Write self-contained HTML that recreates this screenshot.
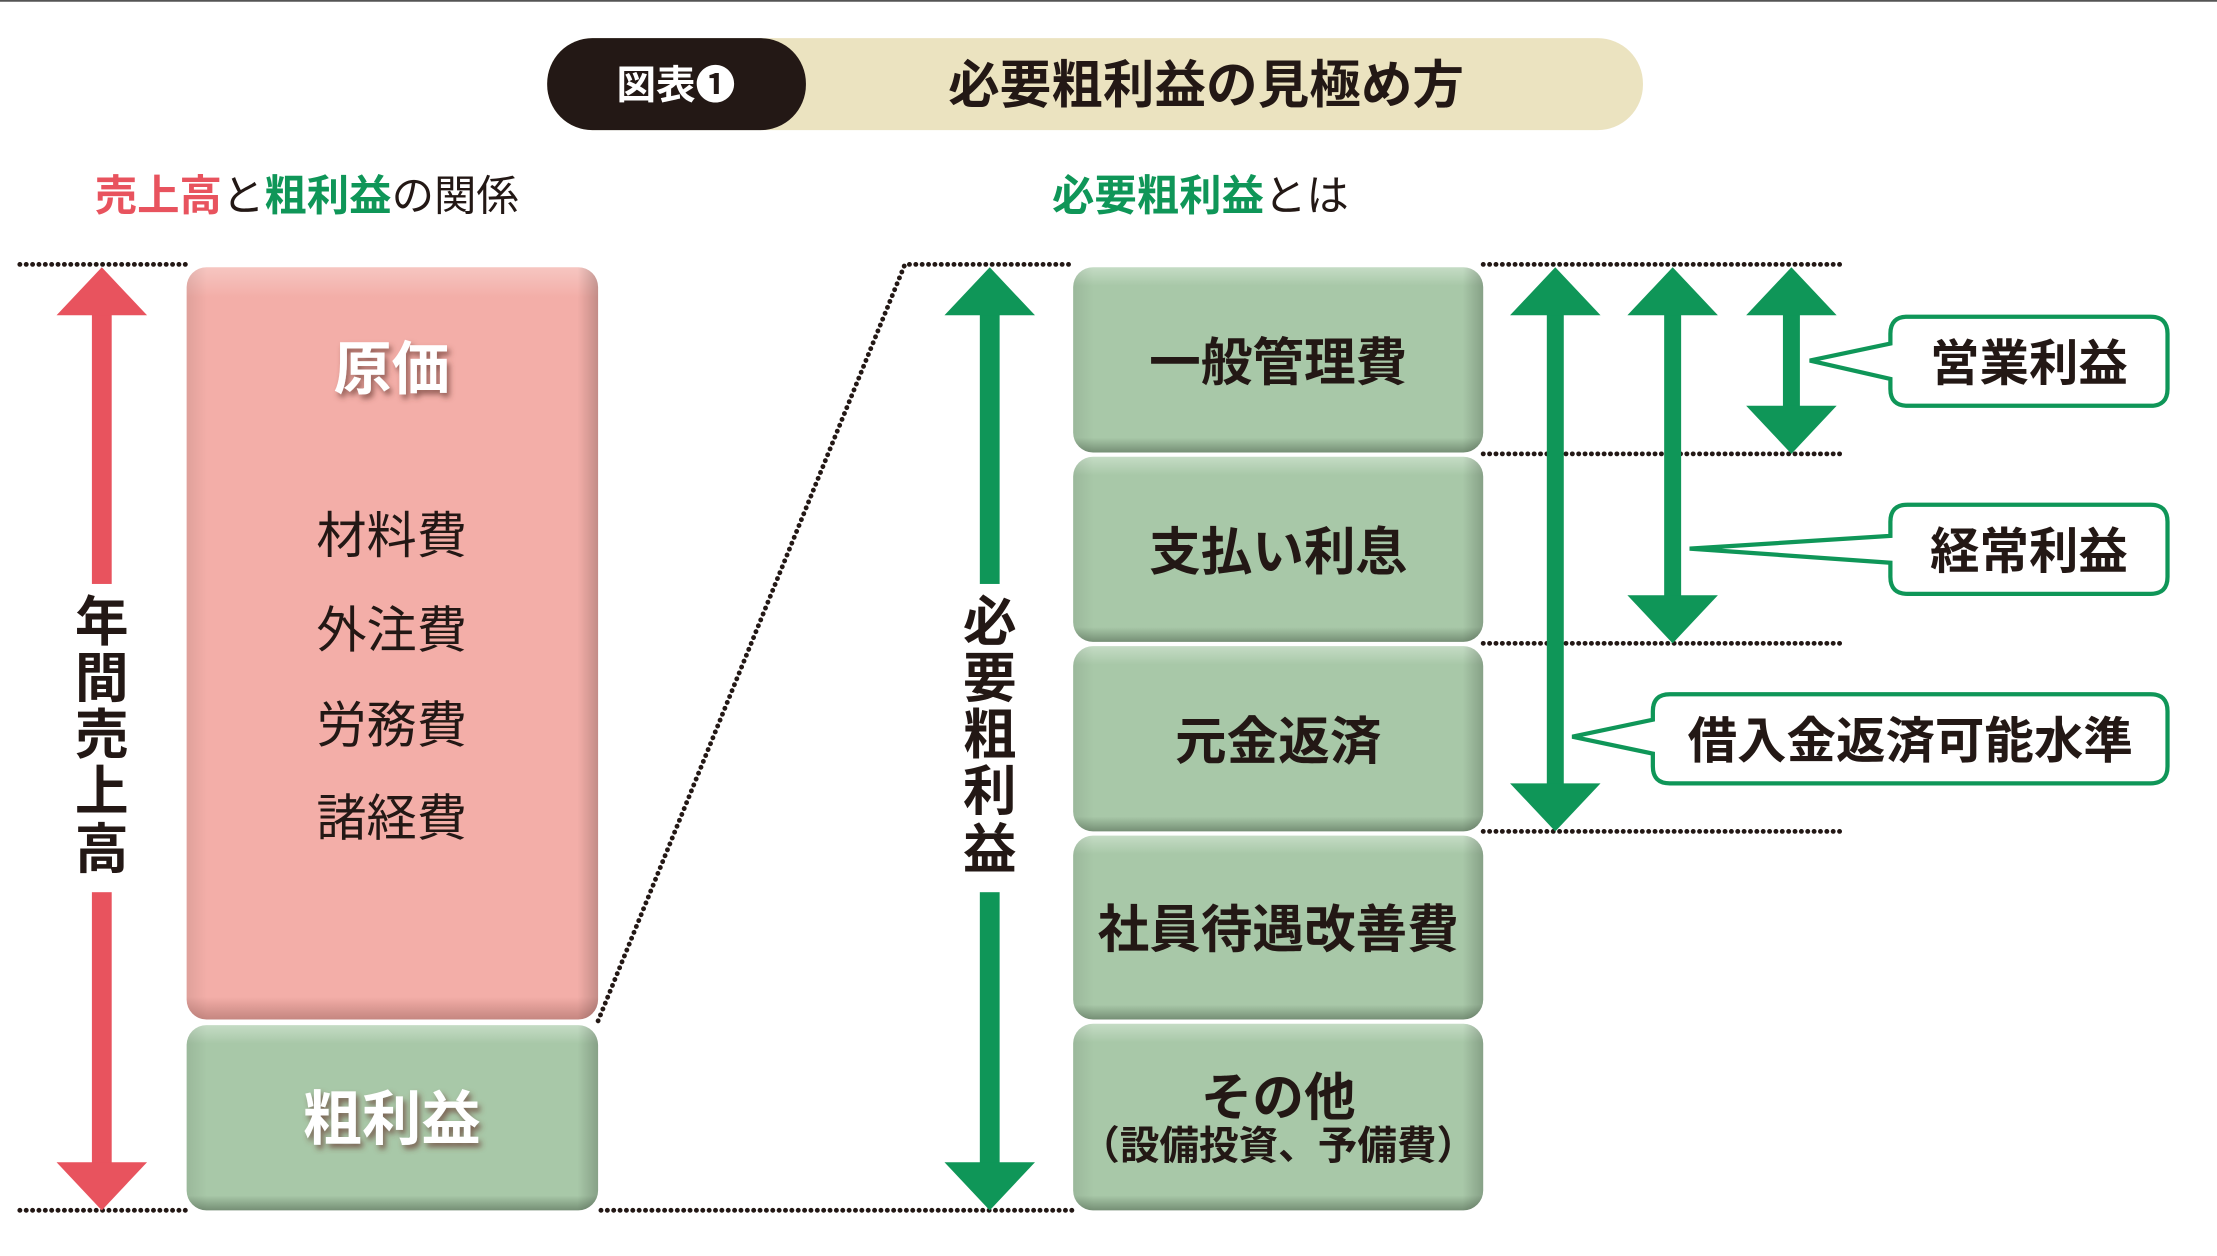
<!DOCTYPE html>
<html><head><meta charset="utf-8"><style>
html,body{margin:0;padding:0;background:#fff;}
svg{display:block;}
text{font-family:"Liberation Sans","Noto Sans CJK JP",sans-serif;font-weight:700;}
</style></head><body>
<svg width="2217" height="1256" viewBox="0 0 1568 888.3" preserveAspectRatio="none" xmlns="http://www.w3.org/2000/svg">
<defs>
<linearGradient id="pk" x1="0" y1="0" x2="0" y2="1"><stop offset="0" stop-color="#f6c6c1"/><stop offset="0.04" stop-color="#f3aea8"/><stop offset="0.97" stop-color="#f3aea8"/><stop offset="1" stop-color="#c58680"/></linearGradient>
<linearGradient id="gr" x1="0" y1="0" x2="0" y2="1"><stop offset="0" stop-color="#c5dcc5"/><stop offset="0.1" stop-color="#a8c8a8"/><stop offset="0.92" stop-color="#a8c8a8"/><stop offset="1" stop-color="#758f75"/></linearGradient>
<linearGradient id="gx" x1="0" y1="0" x2="1" y2="0"><stop offset="0" stop-color="#000" stop-opacity="0.08"/><stop offset="0.05" stop-color="#000" stop-opacity="0"/><stop offset="0.95" stop-color="#000" stop-opacity="0"/><stop offset="1" stop-color="#000" stop-opacity="0.2"/></linearGradient>
<filter id="ts"><feDropShadow dx="2" dy="3" stdDeviation="2" flood-color="#6a3a36" flood-opacity="0.7"/></filter>
</defs>
<line x1="0" y1="0.5" x2="1568" y2="0.5" stroke="#555" stroke-width="1.5"/>
<!-- title -->
<rect x="387" y="27" width="775" height="65" rx="32" fill="#ebe3c0"/>
<rect x="387" y="27" width="183" height="65" rx="32" fill="#231815"/>
<text x="478" y="70" font-size="28" fill="#fff" text-anchor="middle">図表❶</text>
<text x="853" y="73" font-size="36.5" fill="#231815" text-anchor="middle">必要粗利益の見極め方</text>
<!-- headings -->
<text x="67" y="149" font-size="30"><tspan fill="#e8535e">売上高</tspan><tspan fill="#231815" font-weight="400">と</tspan><tspan fill="#0f9658">粗利益</tspan><tspan fill="#231815" font-weight="400">の関係</tspan></text>
<text x="744" y="149" font-size="30"><tspan fill="#0f9658">必要粗利益</tspan><tspan fill="#231815" font-weight="400">とは</tspan></text>
<!-- dotted lines -->
<g stroke="#231815" stroke-width="3.4" stroke-dasharray="0.1 4.4" stroke-linecap="round" fill="none">
<line x1="14" y1="187" x2="133" y2="187"/>
<line x1="14" y1="856" x2="133" y2="856"/>
<polyline points="423,722 640,187 760,187"/>
<line x1="425" y1="856" x2="760" y2="856"/>
<line x1="1049" y1="187" x2="1303" y2="187"/>
<line x1="1049" y1="321" x2="1303" y2="321"/>
<line x1="1049" y1="455" x2="1303" y2="455"/>
<line x1="1049" y1="588" x2="1303" y2="588"/>
</g>
<!-- left red arrow -->
<rect x="65" y="215" width="14" height="615" fill="#e8535e"/>
<polygon points="72,189 40,223 104,223" fill="#e8535e"/>
<polygon points="72,856 40,822 104,822" fill="#e8535e"/>
<rect x="50" y="413" width="44" height="218" fill="#fff"/>
<g font-size="38" fill="#231815" text-anchor="middle">
<text x="72" y="453">年</text><text x="72" y="493">間</text><text x="72" y="533">売</text><text x="72" y="573">上</text><text x="72" y="614">高</text>
</g>
<!-- pink box -->
<rect x="132" y="189" width="291" height="532" rx="14" fill="url(#pk)"/>
<rect x="132" y="189" width="291" height="532" rx="14" fill="url(#gx)"/>
<text x="277" y="275" font-size="41" fill="#fff" text-anchor="middle" filter="url(#ts)">原価</text>
<g font-size="35.5" fill="#231815" text-anchor="middle">
<text x="277" y="391" style="font-weight:400">材料費</text>
<text x="277" y="458" style="font-weight:400">外注費</text>
<text x="277" y="525" style="font-weight:400">労務費</text>
<text x="277" y="591" style="font-weight:400">諸経費</text>
</g>
<rect x="132" y="725" width="291" height="131" rx="14" fill="url(#gr)"/>
<rect x="132" y="725" width="291" height="131" rx="14" fill="url(#gx)"/>
<text x="277" y="806" font-size="42" fill="#fff" text-anchor="middle" filter="url(#ts)">粗利益</text>
<!-- middle green arrow -->
<rect x="693" y="215" width="14" height="615" fill="#0f9658"/>
<polygon points="700,189 668,223 732,223" fill="#0f9658"/>
<polygon points="700,856 668,822 732,822" fill="#0f9658"/>
<rect x="678" y="413" width="44" height="218" fill="#fff"/>
<g font-size="38" fill="#231815" text-anchor="middle">
<text x="700" y="453">必</text><text x="700" y="493">要</text><text x="700" y="533">粗</text><text x="700" y="573">利</text><text x="700" y="614">益</text>
</g>
<!-- right boxes -->
<g>
<rect x="759" y="189" width="290" height="131" rx="14" fill="url(#gr)"/><rect x="759" y="189" width="290" height="131" rx="14" fill="url(#gx)"/>
<rect x="759" y="323" width="290" height="131" rx="14" fill="url(#gr)"/><rect x="759" y="323" width="290" height="131" rx="14" fill="url(#gx)"/>
<rect x="759" y="457" width="290" height="131" rx="14" fill="url(#gr)"/><rect x="759" y="457" width="290" height="131" rx="14" fill="url(#gx)"/>
<rect x="759" y="591" width="290" height="130" rx="14" fill="url(#gr)"/><rect x="759" y="591" width="290" height="130" rx="14" fill="url(#gx)"/>
<rect x="759" y="724" width="290" height="132" rx="14" fill="url(#gr)"/><rect x="759" y="724" width="290" height="132" rx="14" fill="url(#gx)"/>
</g>
<g font-size="36.5" fill="#231815" text-anchor="middle">
<text x="904" y="269">一般管理費</text>
<text x="904" y="403">支払い利息</text>
<text x="904" y="537">元金返済</text>
<text x="904" y="670">社員待遇改善費</text>
<text x="904" y="789">その他</text>
<text x="904" y="820" font-size="28">（設備投資、予備費）</text>
</g>
<!-- right arrows -->
<g fill="#0f9658">
<rect x="1094" y="220" width="12" height="340"/>
<polygon points="1100,189 1068,223 1132,223"/><polygon points="1100,588 1068,554 1132,554"/>
<rect x="1177" y="220" width="12" height="206"/>
<polygon points="1183,189 1151,223 1215,223"/><polygon points="1183,455 1151,421 1215,421"/>
<rect x="1261" y="220" width="12" height="72"/>
<polygon points="1267,189 1235,223 1299,223"/><polygon points="1267,321 1235,287 1299,287"/>
</g>
<!-- callouts -->
<g fill="#fff" stroke="#0f9658" stroke-width="3" stroke-linejoin="miter">
<path d="M1349,224 H1521 Q1533,224 1533,236 V275 Q1533,287 1521,287 H1349 Q1337,287 1337,275 V268 L1280,255 L1337,243 V236 Q1337,224 1349,224 Z"/>
<path d="M1349,357 H1521 Q1533,357 1533,369 V408 Q1533,420 1521,420 H1349 Q1337,420 1337,408 V398 L1195,388 L1337,379 V369 Q1337,357 1349,357 Z"/>
<path d="M1181,491 H1521 Q1533,491 1533,503 V542 Q1533,554 1521,554 H1181 Q1169,554 1169,542 V533 L1112,521 L1169,509 V503 Q1169,491 1181,491 Z"/>
</g>
<g font-size="35" fill="#231815" text-anchor="middle">
<text x="1435" y="269">営業利益</text>
<text x="1435" y="402">経常利益</text>
<text x="1351" y="536">借入金返済可能水準</text>
</g>
</svg>
</body></html>
